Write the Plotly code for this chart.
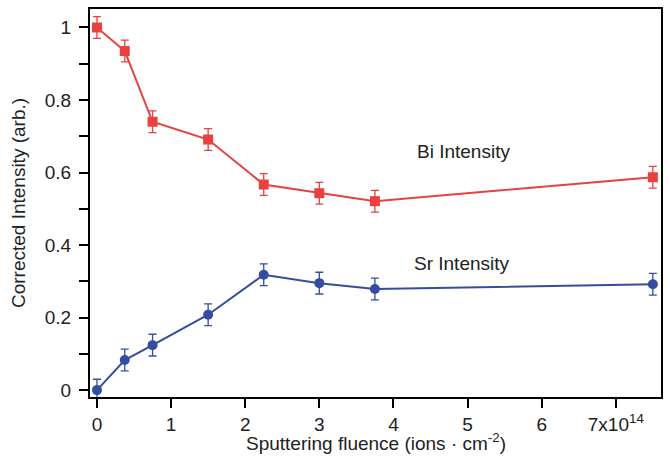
import plotly.graph_objects as go

fluence = [0, 0.375, 0.75, 1.5, 2.25, 3.0, 3.75, 7.5]
bi_intensity = [1.0, 0.935, 0.74, 0.691, 0.567, 0.543, 0.521, 0.587]
sr_intensity = [0.0, 0.083, 0.124, 0.208, 0.318, 0.295, 0.279, 0.292]
bi_err = [0.03] * 8
sr_err = [0.03] * 8

x_tickvals = [0, 1, 2, 3, 4, 5, 6, 7]
x_ticktext = ["0", "1", "2", "3", "4", "5", "6", "7x10<sup>14</sup>"]
y_tickvals = [0, 0.1, 0.2, 0.3, 0.4, 0.5, 0.6, 0.7, 0.8, 0.9, 1.0]
y_ticktext = ["0", "", "0.2", "", "0.4", "", "0.6", "", "0.8", "", "1"]

red = "rgb(233,64,64)"
blue = "rgb(52,77,161)"
txt = "#222222"

fig = go.Figure()
fig.add_trace(go.Scatter(
    x=fluence, y=bi_intensity, mode="lines+markers", name="Bi Intensity",
    line=dict(color=red, width=2),
    marker=dict(symbol="square", size=10, color=red),
    error_y=dict(type="data", array=bi_err, color=red, thickness=1.3, width=4),
))
fig.add_trace(go.Scatter(
    x=fluence, y=sr_intensity, mode="lines+markers", name="Sr Intensity",
    line=dict(color=blue, width=2),
    marker=dict(symbol="circle", size=10, color=blue),
    error_y=dict(type="data", array=sr_err, color=blue, thickness=1.3, width=4),
))

fig.add_annotation(x=4.95, y=0.657, text="Bi Intensity", showarrow=False,
                   font=dict(size=19, color=txt))
fig.add_annotation(x=4.92, y=0.35, text="Sr Intensity", showarrow=False,
                   font=dict(size=19, color=txt))
fig.add_annotation(xref="paper", yref="paper", x=0.5, y=-0.116,
                   xanchor="center", yanchor="middle", showarrow=False,
                   text="Sputtering fluence (ions · cm<sup>-2</sup>)",
                   font=dict(size=19, color=txt))

fig.update_layout(
    width=670, height=461,
    margin=dict(l=90, r=7, t=8, b=64),
    paper_bgcolor="white", plot_bgcolor="white",
    showlegend=False,
    font=dict(family="Liberation Sans, Arial, sans-serif", size=19, color=txt),
)
fig.update_xaxes(
    range=[-0.094, 7.61], tickvals=x_tickvals, ticktext=x_ticktext,
    showgrid=False, zeroline=False,
    showline=True, linecolor="black", linewidth=2, mirror=True,
    ticks="outside", ticklen=9, tickwidth=2, tickcolor="black",
    ticklabelstandoff=0, tickfont=dict(size=19),
)
fig.update_yaxes(
    range=[-0.019, 1.051], tickvals=y_tickvals, ticktext=y_ticktext,
    showgrid=False, zeroline=False,
    showline=True, linecolor="black", linewidth=2, mirror=True,
    ticks="outside", ticklen=9, tickwidth=2, tickcolor="black",
    ticklabelstandoff=4, tickfont=dict(size=19),
    title=dict(text="Corrected Intensity (arb.)", standoff=14, font=dict(size=19)),
)

fig.write_html("out.html")
